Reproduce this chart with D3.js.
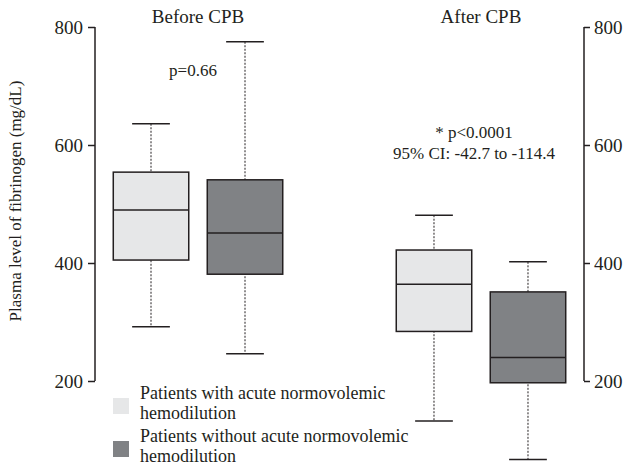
<!DOCTYPE html>
<html>
<head>
<meta charset="utf-8">
<script src="https://cdn.jsdelivr.net/npm/d3@7"></script>
<style>
  body { margin: 0; background: #fff; }
  text { font-family: "Liberation Serif", "DejaVu Serif", serif; fill: #231f20; }
</style>
</head>
<body>
<div id="chart"></div>
<script>
// box plot data (mg/dL)
var groups = ["Before CPB", "After CPB"];
var series = ["Patients with acute normovolemic hemodilution", "Patients without acute normovolemic hemodilution"];
var whiskerLow  = [[292, 246], [132, 67]];
var q1          = [[405, 381], [284, 197]];
var medians     = [[490, 451], [364, 240]];
var q3          = [[554, 541], [422, 351]];
var whiskerHigh = [[636, 775], [481, 402]];
var yTicks = [200, 400, 600, 800];

var colors = ["#e6e7e8", "#808285"];

var width = 626, height = 470;
var margin = {top: 27, right: 42, bottom: 89, left: 95};

var svg = d3.select("#chart").append("svg")
    .attr("width", width)
    .attr("height", height);

var y = d3.scaleLinear()
    .domain([200, 800])
    .range([height - margin.bottom, margin.top]);

var x0 = d3.scaleBand()
    .domain(groups)
    .range([margin.left, width - margin.right])
    .paddingInner(0.35)
    .paddingOuter(0.039);

var x1 = d3.scaleBand()
    .domain([0, 1])
    .range([0, x0.bandwidth()])
    .paddingInner(0.197)
    .paddingOuter(0.077);

// axes
svg.append("g")
    .attr("transform", "translate(" + margin.left + ",0)")
    .call(d3.axisLeft(y).tickValues(yTicks).tickSize(7).tickPadding(5))
    .call(function(g) {
        g.selectAll("path, line").attr("stroke", "#231f20").attr("stroke-width", 1.5);
        g.select(".domain").attr("d", "M0," + y(800) + "V" + y(200));
        g.selectAll("text").attr("font-size", "19px").attr("font-family", "Liberation Serif");
    });

svg.append("g")
    .attr("transform", "translate(" + (width - margin.right) + ",0)")
    .call(d3.axisRight(y).tickValues(yTicks).tickSize(6).tickPadding(4))
    .call(function(g) {
        g.selectAll("path, line").attr("stroke", "#231f20").attr("stroke-width", 1.5);
        g.select(".domain").attr("d", "M0," + y(800) + "V" + y(200));
        g.selectAll("text").attr("font-size", "19px").attr("font-family", "Liberation Serif");
    });

svg.append("text")
    .attr("transform", "translate(21," + 201 + ") rotate(-90)")
    .attr("text-anchor", "middle")
    .style("font-size", "17px")
    .text("Plasma level of fibrinogen (mg/dL)");

// group titles
svg.selectAll(".group-title")
    .data(groups)
    .enter().append("text")
    .attr("class", "group-title")
    .attr("x", function(d) { return x0(d) + x0.bandwidth() / 2; })
    .attr("y", 23)
    .attr("text-anchor", "middle")
    .style("font-size", "19px")
    .text(function(d) { return d; });

// boxes
groups.forEach(function(grp, gi) {
    series.forEach(function(s, si) {
        var left = x0(grp) + x1(si);
        var bw = x1.bandwidth();
        var cx = left + bw / 2;
        var capW = bw / 2;
        var g = svg.append("g");

        g.append("line")
            .attr("x1", cx).attr("x2", cx)
            .attr("y1", y(whiskerHigh[gi][si])).attr("y2", y(whiskerLow[gi][si]))
            .attr("stroke", "#231f20")
            .attr("stroke-width", 1)
            .attr("stroke-dasharray", "2,1.5");

        [whiskerHigh[gi][si], whiskerLow[gi][si]].forEach(function(v) {
            g.append("line")
                .attr("x1", cx - capW / 2).attr("x2", cx + capW / 2)
                .attr("y1", y(v)).attr("y2", y(v))
                .attr("stroke", "#231f20")
                .attr("stroke-width", 1.5);
        });

        g.append("rect")
            .attr("x", left)
            .attr("y", y(q3[gi][si]))
            .attr("width", bw)
            .attr("height", y(q1[gi][si]) - y(q3[gi][si]))
            .attr("fill", colors[si])
            .attr("stroke", "#231f20")
            .attr("stroke-width", 1.5);

        g.append("line")
            .attr("x1", left).attr("x2", left + bw)
            .attr("y1", y(medians[gi][si])).attr("y2", y(medians[gi][si]))
            .attr("stroke", "#231f20")
            .attr("stroke-width", 1.5);
    });
});

// annotations
svg.append("text")
    .attr("x", 193).attr("y", 76)
    .attr("text-anchor", "middle")
    .style("font-size", "17px")
    .text("p=0.66");

svg.append("text")
    .attr("x", 474).attr("y", 138)
    .attr("text-anchor", "middle")
    .style("font-size", "17px")
    .text("* p<0.0001");

svg.append("text")
    .attr("x", 474).attr("y", 159)
    .attr("text-anchor", "middle")
    .style("font-size", "17px")
    .text("95% CI: -42.7 to -114.4");

// legend
var legendLines = [["Patients with acute normovolemic", "hemodilution"],
                   ["Patients without acute normovolemic", "hemodilution"]];
var legend = svg.selectAll(".legend")
    .data(series)
    .enter().append("g")
    .attr("class", "legend")
    .attr("transform", function(d, i) { return "translate(113," + (398 + i * 43) + ")"; });

legend.append("rect")
    .attr("width", 16).attr("height", 16)
    .attr("fill", function(d, i) { return colors[i]; });

legend.append("text")
    .attr("x", 27)
    .attr("y", 1)
    .style("font-size", "18px")
    .selectAll("tspan")
    .data(function(d, i) { return legendLines[i]; })
    .enter().append("tspan")
    .attr("x", 27)
    .attr("dy", function(d, j) { return j === 0 ? 0 : 20; })
    .text(function(d) { return d; });
</script>
</body>
</html>
